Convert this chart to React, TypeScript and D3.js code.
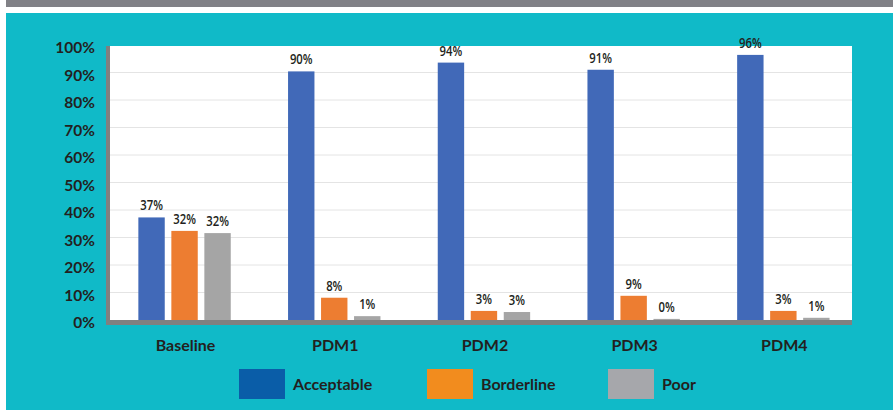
import React from "react";
import * as d3 from "d3";

const categories = ["Baseline", "PDM1", "PDM2", "PDM3", "PDM4"];
const seriesNames = ["Acceptable", "Borderline", "Poor"];
const acceptable = [37.3, 90.4, 93.6, 91.0, 96.4];
const borderline = [32.4, 8.1, 3.3, 8.8, 3.3];
const poor = [31.6, 1.4, 2.9, 0.4, 0.8];
const yTicks = [0, 10, 20, 30, 40, 50, 60, 70, 80, 90, 100];
const barColors = ["#4169B8", "#ED7D31", "#A5A5A5"];
const legendColors = ["#0A5DA8", "#F28C1E", "#A6A7AB"];

const W = 893;
const H = 410;

export default function App() {
  const series = [acceptable, borderline, poor];
  const x = d3.scaleBand<string>().domain(categories).range([109.7, 858.2]).paddingInner(0).paddingOuter(0);
  const half = x.bandwidth() / 2;
  const sub = d3
    .scaleBand<string>()
    .domain(seriesNames)
    .range([-49.5, 49.5])
    .paddingInner(0.2)
    .paddingOuter(0.1);
  const y = d3.scaleLinear().domain([0, 100]).range([320, 45]);

  const axisFont = "Lato, 'Open Sans', sans-serif";
  const labelFont = "'Open Sans', sans-serif";
  const textColor = "#231F20";

  const plotLeft = 110;
  const plotRight = 852;
  const plotTop = 46;

  const legendX = [239, 427, 608];

  return (
    <svg
      width={W}
      height={H}
      viewBox={`0 0 ${W} ${H}`}
      style={{ position: "absolute", left: 0, top: 0, display: "block" }}
    >
      <rect x={0} y={0} width={W} height={H} fill="#FFFFFF" />
      <rect x={6} y={0} width={W - 6} height={7} fill="#818186" />
      <rect x={6} y={13} width={W - 6} height={H - 13} fill="#10BAC8" />

      {/* plot area */}
      <rect x={plotLeft} y={plotTop} width={plotRight - plotLeft} height={y(0) - plotTop} fill="#FFFFFF" />
      {yTicks
        .filter((t) => t > 0 && t < 100)
        .map((t) => (
          <line
            key={t}
            x1={plotLeft}
            x2={plotRight}
            y1={y(t)}
            y2={y(t)}
            stroke="#E4E4E4"
            strokeWidth={1}
          />
        ))}

      {/* bars */}
      {categories.map((c, i) => (
        <g key={c}>
          {seriesNames.map((s, j) => {
            const v = series[j][i];
            const cx = (x(c) as number) + half;
            const bx = cx + (sub(s) as number);
            return (
              <g key={s}>
                <rect
                  x={bx}
                  y={y(v)}
                  width={sub.bandwidth()}
                  height={y(0) - y(v)}
                  fill={barColors[j]}
                />
                <text
                  transform={`translate(${bx + sub.bandwidth() / 2},${y(v) - 7}) scale(0.78,1)`}
                  textAnchor="middle"
                  fontFamily={labelFont}
                  fontWeight={600}
                  fontSize={14.5}
                  fill={textColor}
                >
                  {`${Math.round(v)}%`}
                </text>
              </g>
            );
          })}
        </g>
      ))}

      {/* axes frame */}
      <rect x={106} y={plotTop} width={4} height={325 - plotTop} fill="#808080" />
      <rect x={106} y={320} width={plotRight - 106} height={5} fill="#808080" />

      {/* y ticks */}
      {yTicks.map((t) => (
        <text
          key={t}
          x={95}
          y={y(t) + 2}
          textAnchor="end"
          dominantBaseline="central"
          fontFamily={axisFont}
          fontWeight={700}
          fontSize={15.5}
          fill={textColor}
        >
          {`${t}%`}
        </text>
      ))}

      {/* category labels */}
      {categories.map((c) => (
        <text
          key={c}
          x={(x(c) as number) + half + 1}
          y={351}
          textAnchor="middle"
          fontFamily={axisFont}
          fontWeight={700}
          fontSize={16}
          fill={textColor}
        >
          {c}
        </text>
      ))}

      {/* legend */}
      {seriesNames.map((s, j) => (
        <g key={s}>
          <rect x={legendX[j]} y={369} width={46} height={30} fill={legendColors[j]} />
          <text
            x={legendX[j] + 54}
            y={390}
            fontFamily={axisFont}
            fontWeight={700}
            fontSize={16}
            fill={textColor}
          >
            {s}
          </text>
        </g>
      ))}
    </svg>
  );
}
